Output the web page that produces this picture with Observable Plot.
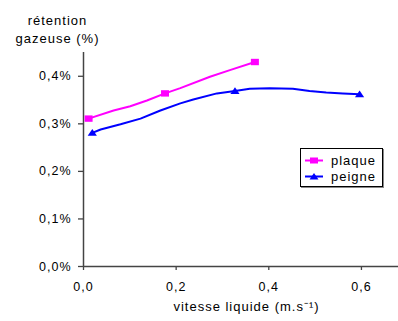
<!DOCTYPE html>
<html>
<head>
<meta charset="utf-8">
<script src="https://cdn.jsdelivr.net/npm/d3@7"></script>
<script src="https://cdn.jsdelivr.net/npm/@observablehq/plot@0.6"></script>
<style>
  body { margin: 0; background: #fff; }
  #wrap { position: relative; width: 398px; height: 321px; font-family: "Liberation Sans", Arial, sans-serif; }
  #legend { position: absolute; left: 300px; top: 148px; width: 81px; height: 37px; border: 1px solid #000; background: #fff; box-shadow: 1px 1px 0 #888; }
  .lrow { position: absolute; left: 4px; height: 16px; display: flex; align-items: center; font-size: 13px; letter-spacing: 1px; color: #000; }
  .lrow svg { margin-right: 8px; }
</style>
</head>
<body>
<div id="wrap"></div>
<script>
// plaque series (vitesse liquide m/s, rétention gazeuse %)
const plaqueX = [0.011, 0.065, 0.101, 0.137, 0.176, 0.209, 0.273, 0.316, 0.370];
const plaqueY = [0.311, 0.328, 0.337, 0.349, 0.364, 0.375, 0.399, 0.413, 0.430];
const plaqueMarkX = [0.011, 0.176, 0.370];
const plaqueMarkY = [0.311, 0.364, 0.430];

// peigne series
const peigneX = [0.019, 0.037, 0.080, 0.123, 0.166, 0.209, 0.237, 0.288, 0.327, 0.359, 0.402, 0.452, 0.488, 0.524, 0.560, 0.596];
const peigneY = [0.281, 0.288, 0.299, 0.311, 0.328, 0.343, 0.351, 0.364, 0.369, 0.374, 0.375, 0.374, 0.369, 0.366, 0.364, 0.362];
const peigneMarkX = [0.019, 0.327, 0.596];
const peigneMarkY = [0.281, 0.369, 0.362];

const xTicks = [0, 0.2, 0.4, 0.6];
const yTicks = [0, 0.1, 0.2, 0.3, 0.4];
const seriesNames = ["plaque", "peigne"];
const seriesColors = ["#ff00ff", "#0000ff"];
const titleLines = ["rétention", "gazeuse (%)"];
const xLabel = "vitesse liquide (m.s⁻¹)";

const plaque = plaqueX.map((x, i) => ({x, y: plaqueY[i]}));
const plaqueM = plaqueMarkX.map((x, i) => ({x, y: plaqueMarkY[i]}));
const peigne = peigneX.map((x, i) => ({x, y: peigneY[i]}));
const peigneM = peigneMarkX.map((x, i) => ({x, y: peigneMarkY[i]}));

const comma = (d, n) => d.toFixed(n).replace(".", ",");
const axisColor = "#444";

// wide marker shapes (the reference is slightly horizontally stretched)
const wideSquare = {draw(ctx) { ctx.rect(-4, -3.2, 8, 6.4); }};
const wideTriangle = {draw(ctx) { ctx.moveTo(0, -3.8); ctx.lineTo(4.6, 3); ctx.lineTo(-4.6, 3); ctx.closePath(); }};

const chart = Plot.plot({
  width: 398,
  height: 321,
  marginLeft: 83,
  marginRight: 0,
  marginTop: 52,
  marginBottom: 55,
  style: {fontFamily: "Liberation Sans, Arial, sans-serif", fontSize: "12px", letterSpacing: "1px", color: "#000", background: "#fff"},
  x: {domain: [0, 0.68]},
  y: {domain: [0, 0.45]},
  marks: [
    Plot.axisX(xTicks, {tickSize: 4, tickPadding: 12, tickFormat: d => comma(d, 1), stroke: axisColor, strokeWidth: 1.3, fontSize: 12.5, fill: "#000", label: null}),
    Plot.axisY(yTicks, {tickSize: 5, tickPadding: 7, tickFormat: d => comma(d, 1) + "%", stroke: axisColor, strokeWidth: 1.3, fontSize: 12.5, fill: "#000", label: null}),
    Plot.ruleY([0], {stroke: axisColor, strokeWidth: 1.5}),
    Plot.ruleX([0], {stroke: axisColor, strokeWidth: 1.5}),
    Plot.line(plaque, {x: "x", y: "y", stroke: seriesColors[0], strokeWidth: 2, curve: "linear"}),
    Plot.line(peigne, {x: "x", y: "y", stroke: seriesColors[1], strokeWidth: 2, curve: "linear"}),
    Plot.dot(plaqueM, {x: "x", y: "y", symbol: wideSquare, fill: seriesColors[0], stroke: "none"}),
    Plot.dot(peigneM, {x: "x", y: "y", symbol: wideTriangle, fill: seriesColors[1], stroke: "none"}),
    Plot.text([titleLines[0]], {frameAnchor: "top-left", dx: -26, dy: -37, textAnchor: "middle", fontSize: 13, fill: "#000"}),
    Plot.text([titleLines[1]], {frameAnchor: "top-left", dx: -26, dy: -19, textAnchor: "middle", fontSize: 13, fill: "#000"}),
    Plot.text([xLabel], {frameAnchor: "bottom-left", dx: 163, dy: 44, textAnchor: "middle", fontSize: 13, fill: "#000"})
  ]
});

document.getElementById("wrap").appendChild(chart);

// legend
const legend = document.createElement("div");
legend.id = "legend";
const syms = ["square", "triangle"];
seriesNames.forEach((name, i) => {
  const row = document.createElement("div");
  row.className = "lrow";
  row.style.top = (i === 0 ? 3 : 19) + "px";
  const c = seriesColors[i];
  const marker = syms[i] === "square"
    ? `<rect x="5" y="3.5" width="8" height="6" fill="${c}"/>`
    : `<path d="M9,3 L13.5,9.5 L4.5,9.5 Z" fill="${c}"/>`;
  row.innerHTML = `<svg width="18" height="13"><line x1="0" x2="18" y1="6.5" y2="6.5" stroke="${c}" stroke-width="2"/>${marker}</svg><span>${name}</span>`;
  legend.appendChild(row);
});
document.getElementById("wrap").appendChild(legend);
</script>
</body>
</html>
